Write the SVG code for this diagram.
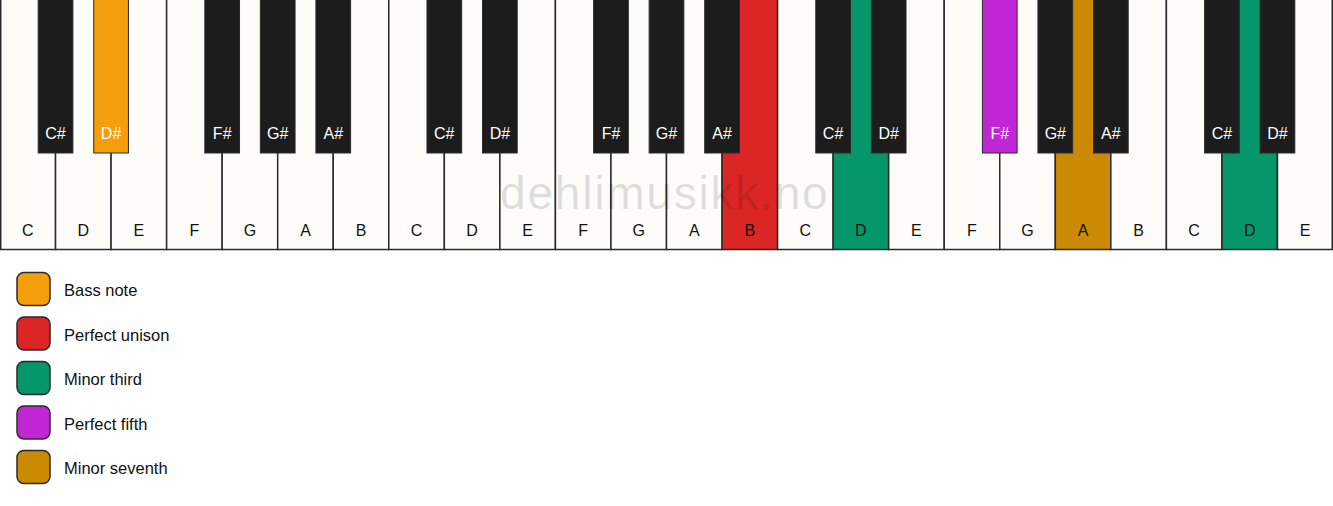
<svg xmlns="http://www.w3.org/2000/svg" width="1333" height="506" viewBox="0 0 1333 506">
<style>
.w{fill:#fdfcf9;stroke:#2b2b2b;stroke-width:1.5}
.b{fill:#1c1c1c;stroke:#2b2b2b;stroke-width:1}
.wl{font-family:"Liberation Sans",Arial,sans-serif;font-size:16px;fill:#111;text-anchor:middle}
.bl{font-family:"Liberation Sans",Arial,sans-serif;font-size:16px;fill:#fff;text-anchor:middle}
.lg{stroke:#2b2b2b;stroke-width:1.5}
.lt{font-family:"Liberation Sans",Arial,sans-serif;font-size:16.5px;fill:#111}
</style>
<rect width="1333" height="506" fill="#ffffff"/>
<g id="white-keys">
<g id="w0"><rect class="w" x="0.75" y="-1" width="54.79" height="250.5"/><text class="wl" x="27.8" y="236">C</text></g>
<g id="w1"><rect class="w" x="55.54" y="-1" width="55.54" height="250.5"/><text class="wl" x="83.3" y="236">D</text></g>
<g id="w2"><rect class="w" x="111.08" y="-1" width="55.54" height="250.5"/><text class="wl" x="138.9" y="236">E</text></g>
<g id="w3"><rect class="w" x="166.63" y="-1" width="55.54" height="250.5"/><text class="wl" x="194.4" y="236">F</text></g>
<g id="w4"><rect class="w" x="222.17" y="-1" width="55.54" height="250.5"/><text class="wl" x="249.9" y="236">G</text></g>
<g id="w5"><rect class="w" x="277.71" y="-1" width="55.54" height="250.5"/><text class="wl" x="305.5" y="236">A</text></g>
<g id="w6"><rect class="w" x="333.25" y="-1" width="55.54" height="250.5"/><text class="wl" x="361.0" y="236">B</text></g>
<g id="w7"><rect class="w" x="388.79" y="-1" width="55.54" height="250.5"/><text class="wl" x="416.6" y="236">C</text></g>
<g id="w8"><rect class="w" x="444.33" y="-1" width="55.54" height="250.5"/><text class="wl" x="472.1" y="236">D</text></g>
<g id="w9"><rect class="w" x="499.88" y="-1" width="55.54" height="250.5"/><text class="wl" x="527.6" y="236">E</text></g>
<g id="w10"><rect class="w" x="555.42" y="-1" width="55.54" height="250.5"/><text class="wl" x="583.2" y="236">F</text></g>
<g id="w11"><rect class="w" x="610.96" y="-1" width="55.54" height="250.5"/><text class="wl" x="638.7" y="236">G</text></g>
<g id="w12"><rect class="w" x="666.5" y="-1" width="55.54" height="250.5"/><text class="wl" x="694.3" y="236">A</text></g>
<g id="w13"><rect class="w" x="722.04" y="-1" width="55.54" height="250.5" style="fill:#dc2626"/><text class="wl" x="749.8" y="236">B</text></g>
<g id="w14"><rect class="w" x="777.58" y="-1" width="55.54" height="250.5"/><text class="wl" x="805.4" y="236">C</text></g>
<g id="w15"><rect class="w" x="833.13" y="-1" width="55.54" height="250.5" style="fill:#059669"/><text class="wl" x="860.9" y="236">D</text></g>
<g id="w16"><rect class="w" x="888.67" y="-1" width="55.54" height="250.5"/><text class="wl" x="916.4" y="236">E</text></g>
<g id="w17"><rect class="w" x="944.21" y="-1" width="55.54" height="250.5"/><text class="wl" x="972.0" y="236">F</text></g>
<g id="w18"><rect class="w" x="999.75" y="-1" width="55.54" height="250.5"/><text class="wl" x="1027.5" y="236">G</text></g>
<g id="w19"><rect class="w" x="1055.29" y="-1" width="55.54" height="250.5" style="fill:#ca8a04"/><text class="wl" x="1083.1" y="236">A</text></g>
<g id="w20"><rect class="w" x="1110.83" y="-1" width="55.54" height="250.5"/><text class="wl" x="1138.6" y="236">B</text></g>
<g id="w21"><rect class="w" x="1166.38" y="-1" width="55.54" height="250.5"/><text class="wl" x="1194.1" y="236">C</text></g>
<g id="w22"><rect class="w" x="1221.92" y="-1" width="55.54" height="250.5" style="fill:#059669"/><text class="wl" x="1249.7" y="236">D</text></g>
<g id="w23"><rect class="w" x="1277.46" y="-1" width="54.79" height="250.5"/><text class="wl" x="1305.2" y="236">E</text></g>
</g>
<g id="black-keys">
<g id="b0"><rect class="b" x="38.19" y="-1" width="34.7" height="154"/><text class="bl" x="55.5" y="139">C#</text></g>
<g id="b1"><rect class="b" x="93.73" y="-1" width="34.7" height="154" style="fill:#f59e0b"/><text class="bl" x="111.1" y="139">D#</text></g>
<g id="b3"><rect class="b" x="204.82" y="-1" width="34.7" height="154"/><text class="bl" x="222.2" y="139">F#</text></g>
<g id="b4"><rect class="b" x="260.36" y="-1" width="34.7" height="154"/><text class="bl" x="277.7" y="139">G#</text></g>
<g id="b5"><rect class="b" x="315.9" y="-1" width="34.7" height="154"/><text class="bl" x="333.3" y="139">A#</text></g>
<g id="b7"><rect class="b" x="426.98" y="-1" width="34.7" height="154"/><text class="bl" x="444.3" y="139">C#</text></g>
<g id="b8"><rect class="b" x="482.52" y="-1" width="34.7" height="154"/><text class="bl" x="499.9" y="139">D#</text></g>
<g id="b10"><rect class="b" x="593.61" y="-1" width="34.7" height="154"/><text class="bl" x="611.0" y="139">F#</text></g>
<g id="b11"><rect class="b" x="649.15" y="-1" width="34.7" height="154"/><text class="bl" x="666.5" y="139">G#</text></g>
<g id="b12"><rect class="b" x="704.69" y="-1" width="34.7" height="154"/><text class="bl" x="722.0" y="139">A#</text></g>
<g id="b14"><rect class="b" x="815.77" y="-1" width="34.7" height="154"/><text class="bl" x="833.1" y="139">C#</text></g>
<g id="b15"><rect class="b" x="871.32" y="-1" width="34.7" height="154"/><text class="bl" x="888.7" y="139">D#</text></g>
<g id="b17"><rect class="b" x="982.4" y="-1" width="34.7" height="154" style="fill:#c026d3"/><text class="bl" x="999.8" y="139">F#</text></g>
<g id="b18"><rect class="b" x="1037.94" y="-1" width="34.7" height="154"/><text class="bl" x="1055.3" y="139">G#</text></g>
<g id="b19"><rect class="b" x="1093.48" y="-1" width="34.7" height="154"/><text class="bl" x="1110.8" y="139">A#</text></g>
<g id="b21"><rect class="b" x="1204.57" y="-1" width="34.7" height="154"/><text class="bl" x="1221.9" y="139">C#</text></g>
<g id="b22"><rect class="b" x="1260.11" y="-1" width="34.7" height="154"/><text class="bl" x="1277.5" y="139">D#</text></g>
</g>
<text id="watermark" x="500" y="209" font-family="'Liberation Sans',Arial,sans-serif" font-size="46" letter-spacing="1.8" fill="#000" fill-opacity="0.12">dehlimusikk.no</text>
<g id="legend">
<g id="lg0"><rect class="lg" x="17" y="272.5" width="33" height="33" rx="7" fill="#f59e0b"/><text class="lt" x="64" y="296">Bass note</text></g>
<g id="lg1"><rect class="lg" x="17" y="317" width="33" height="33" rx="7" fill="#dc2626"/><text class="lt" x="64" y="340.5">Perfect unison</text></g>
<g id="lg2"><rect class="lg" x="17" y="361.5" width="33" height="33" rx="7" fill="#059669"/><text class="lt" x="64" y="385">Minor third</text></g>
<g id="lg3"><rect class="lg" x="17" y="406" width="33" height="33" rx="7" fill="#c026d3"/><text class="lt" x="64" y="429.5">Perfect fifth</text></g>
<g id="lg4"><rect class="lg" x="17" y="450.5" width="33" height="33" rx="7" fill="#ca8a04"/><text class="lt" x="64" y="474">Minor seventh</text></g>
</g>
</svg>
